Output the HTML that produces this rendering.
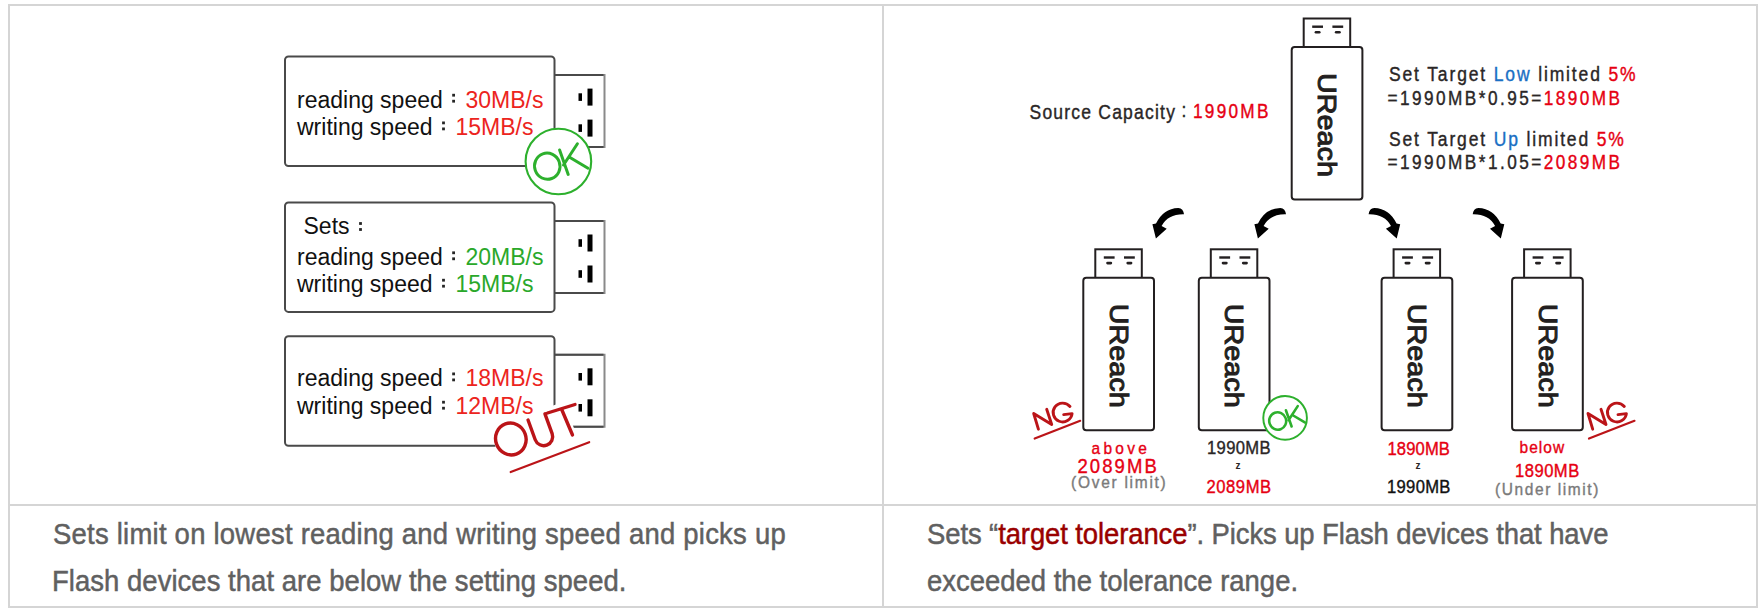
<!DOCTYPE html>
<html><head><meta charset="utf-8"><style>
html,body{margin:0;padding:0;background:#fff;}
body{width:1764px;height:612px;position:relative;overflow:hidden;font-family:'Liberation Sans', sans-serif;}
.t{position:absolute;white-space:nowrap;}
svg{position:absolute;left:0;top:0;}
</style></head><body>

<div style="position:absolute;left:8px;top:4px;width:1746px;height:600px;border:2px solid #d5d5d5"></div>
<div style="position:absolute;left:882px;top:4px;width:2px;height:604px;background:#d5d5d5"></div>
<div style="position:absolute;left:8px;top:504px;width:1750px;height:2px;background:#d5d5d5"></div>

<svg width="1764" height="612" viewBox="0 0 1764 612">
<path d="M550 75.0 H604.5 V147.0 H550" fill="#fff" stroke="#8a8a8a" stroke-width="2"/>
<path d="M550 75.0 H603.5" stroke="#4a4a4a" stroke-width="2"/>
<path d="M550 147.0 H603.5" stroke="#4a4a4a" stroke-width="2"/>
<rect x="285" y="56.5" width="269.5" height="109.5" rx="3.5" fill="#fff" stroke="#4a4a4a" stroke-width="2"/>
<rect x="578.5" y="93.3" width="3.5" height="7.6" fill="#000"/>
<rect x="587.5" y="88.6" width="5" height="17" fill="#000"/>
<rect x="578.5" y="124.3" width="3.5" height="7.6" fill="#000"/>
<rect x="587.5" y="119.6" width="5" height="17" fill="#000"/>
<rect x="452.2" y="93.8" width="2.8" height="2.8" fill="#262626"/>
<rect x="452.2" y="99.8" width="2.8" height="2.8" fill="#262626"/>
<rect x="442.1" y="121.5" width="2.8" height="2.8" fill="#262626"/>
<rect x="442.1" y="127.5" width="2.8" height="2.8" fill="#262626"/>
<path d="M550 220.9 H604.5 V292.9 H550" fill="#fff" stroke="#8a8a8a" stroke-width="2"/>
<path d="M550 220.9 H603.5" stroke="#4a4a4a" stroke-width="2"/>
<path d="M550 292.9 H603.5" stroke="#4a4a4a" stroke-width="2"/>
<rect x="285" y="202.4" width="269.5" height="109.5" rx="3.5" fill="#fff" stroke="#4a4a4a" stroke-width="2"/>
<rect x="578.5" y="239.2" width="3.5" height="7.6" fill="#000"/>
<rect x="587.5" y="234.5" width="5" height="17" fill="#000"/>
<rect x="578.5" y="270.2" width="3.5" height="7.6" fill="#000"/>
<rect x="587.5" y="265.5" width="5" height="17" fill="#000"/>
<rect x="359.1" y="222.1" width="2.8" height="2.8" fill="#262626"/>
<rect x="359.1" y="228.1" width="2.8" height="2.8" fill="#262626"/>
<rect x="452.2" y="251.4" width="2.8" height="2.8" fill="#262626"/>
<rect x="452.2" y="257.4" width="2.8" height="2.8" fill="#262626"/>
<rect x="442.1" y="278.8" width="2.8" height="2.8" fill="#262626"/>
<rect x="442.1" y="284.8" width="2.8" height="2.8" fill="#262626"/>
<path d="M550 354.7 H604.5 V426.7 H550" fill="#fff" stroke="#8a8a8a" stroke-width="2"/>
<path d="M550 354.7 H603.5" stroke="#4a4a4a" stroke-width="2"/>
<path d="M550 426.7 H603.5" stroke="#4a4a4a" stroke-width="2"/>
<rect x="285" y="336.2" width="269.5" height="109.5" rx="3.5" fill="#fff" stroke="#4a4a4a" stroke-width="2"/>
<rect x="578.5" y="373.0" width="3.5" height="7.6" fill="#000"/>
<rect x="587.5" y="368.3" width="5" height="17" fill="#000"/>
<rect x="578.5" y="404.0" width="3.5" height="7.6" fill="#000"/>
<rect x="587.5" y="399.3" width="5" height="17" fill="#000"/>
<rect x="452.2" y="372.5" width="2.8" height="2.8" fill="#262626"/>
<rect x="452.2" y="378.5" width="2.8" height="2.8" fill="#262626"/>
<rect x="442.1" y="400.8" width="2.8" height="2.8" fill="#262626"/>
<rect x="442.1" y="406.8" width="2.8" height="2.8" fill="#262626"/>
<rect x="1303.7" y="18.5" width="46.5" height="29" fill="#fff" stroke="#231f20" stroke-width="2"/>
<rect x="1291.7" y="47.0" width="70.7" height="152.5" rx="3" fill="#fff" stroke="#231f20" stroke-width="2"/>
<rect x="1312.2" y="25.5" width="10.8" height="2.4" fill="#231f20"/>
<rect x="1314.6" y="31.0" width="6" height="2.6" rx="1.3" fill="#231f20"/>
<rect x="1332.4" y="25.5" width="10.8" height="2.4" fill="#231f20"/>
<rect x="1334.8" y="31.0" width="6" height="2.6" rx="1.3" fill="#231f20"/>
<text transform="translate(1318.1,72.9) rotate(90)" font-size="26" fill="#231f20" stroke="#231f20" stroke-width="1.0" font-family="Liberation Sans" textLength="104" lengthAdjust="spacingAndGlyphs">UReach</text>
<rect x="1095.3" y="249.3" width="46.5" height="29" fill="#fff" stroke="#231f20" stroke-width="2"/>
<rect x="1083.3" y="277.8" width="70.7" height="152.5" rx="3" fill="#fff" stroke="#231f20" stroke-width="2"/>
<rect x="1103.8" y="256.3" width="10.8" height="2.4" fill="#231f20"/>
<rect x="1106.2" y="261.8" width="6" height="2.6" rx="1.3" fill="#231f20"/>
<rect x="1124.0" y="256.3" width="10.8" height="2.4" fill="#231f20"/>
<rect x="1126.4" y="261.8" width="6" height="2.6" rx="1.3" fill="#231f20"/>
<text transform="translate(1109.7,303.7) rotate(90)" font-size="26" fill="#231f20" stroke="#231f20" stroke-width="1.0" font-family="Liberation Sans" textLength="104" lengthAdjust="spacingAndGlyphs">UReach</text>
<rect x="1210.8" y="249.3" width="46.5" height="29" fill="#fff" stroke="#231f20" stroke-width="2"/>
<rect x="1198.8" y="277.8" width="70.7" height="152.5" rx="3" fill="#fff" stroke="#231f20" stroke-width="2"/>
<rect x="1219.3" y="256.3" width="10.8" height="2.4" fill="#231f20"/>
<rect x="1221.7" y="261.8" width="6" height="2.6" rx="1.3" fill="#231f20"/>
<rect x="1239.5" y="256.3" width="10.8" height="2.4" fill="#231f20"/>
<rect x="1241.9" y="261.8" width="6" height="2.6" rx="1.3" fill="#231f20"/>
<text transform="translate(1225.2,303.7) rotate(90)" font-size="26" fill="#231f20" stroke="#231f20" stroke-width="1.0" font-family="Liberation Sans" textLength="104" lengthAdjust="spacingAndGlyphs">UReach</text>
<rect x="1393.6" y="249.3" width="46.5" height="29" fill="#fff" stroke="#231f20" stroke-width="2"/>
<rect x="1381.6" y="277.8" width="70.7" height="152.5" rx="3" fill="#fff" stroke="#231f20" stroke-width="2"/>
<rect x="1402.1" y="256.3" width="10.8" height="2.4" fill="#231f20"/>
<rect x="1404.5" y="261.8" width="6" height="2.6" rx="1.3" fill="#231f20"/>
<rect x="1422.3" y="256.3" width="10.8" height="2.4" fill="#231f20"/>
<rect x="1424.7" y="261.8" width="6" height="2.6" rx="1.3" fill="#231f20"/>
<text transform="translate(1408.0,303.7) rotate(90)" font-size="26" fill="#231f20" stroke="#231f20" stroke-width="1.0" font-family="Liberation Sans" textLength="104" lengthAdjust="spacingAndGlyphs">UReach</text>
<rect x="1524.1" y="249.3" width="46.5" height="29" fill="#fff" stroke="#231f20" stroke-width="2"/>
<rect x="1512.1" y="277.8" width="70.7" height="152.5" rx="3" fill="#fff" stroke="#231f20" stroke-width="2"/>
<rect x="1532.6" y="256.3" width="10.8" height="2.4" fill="#231f20"/>
<rect x="1535.0" y="261.8" width="6" height="2.6" rx="1.3" fill="#231f20"/>
<rect x="1552.8" y="256.3" width="10.8" height="2.4" fill="#231f20"/>
<rect x="1555.2" y="261.8" width="6" height="2.6" rx="1.3" fill="#231f20"/>
<text transform="translate(1538.5,303.7) rotate(90)" font-size="26" fill="#231f20" stroke="#231f20" stroke-width="1.0" font-family="Liberation Sans" textLength="104" lengthAdjust="spacingAndGlyphs">UReach</text>
<path d="M1368.6 214.3 Q1369.2 208.4 1374.3 207.9 Q1389.5 208.4 1396.6 223.6 L1400.2 224.3 L1396.7 238.6 L1385.9 228.8 L1391.0 226.0 Q1384.5 213.9 1368.6 214.3 Z" fill="#000"/>
<path d="M1368.6 214.3 Q1369.2 208.4 1374.3 207.9 Q1389.5 208.4 1396.6 223.6 L1400.2 224.3 L1396.7 238.6 L1385.9 228.8 L1391.0 226.0 Q1384.5 213.9 1368.6 214.3 Z" fill="#000" transform="translate(104.1,0)"/>
<path d="M1368.6 214.3 Q1369.2 208.4 1374.3 207.9 Q1389.5 208.4 1396.6 223.6 L1400.2 224.3 L1396.7 238.6 L1385.9 228.8 L1391.0 226.0 Q1384.5 213.9 1368.6 214.3 Z" fill="#000" transform="translate(2552.6,0) scale(-1,1)"/>
<path d="M1368.6 214.3 Q1369.2 208.4 1374.3 207.9 Q1389.5 208.4 1396.6 223.6 L1400.2 224.3 L1396.7 238.6 L1385.9 228.8 L1391.0 226.0 Q1384.5 213.9 1368.6 214.3 Z" fill="#000" transform="translate(2654.6,0) scale(-1,1)"/>
<rect x="0" y="-34" width="80" height="42" fill="#fff" transform="translate(500.7,460.8) rotate(-20)"/>
</svg>
<div class="t" style="left:297.0px;top:88.7px;font-size:23px;line-height:23px;color:#111;font-weight:normal;letter-spacing:0px;">reading speed</div>
<div class="t" style="left:465.5px;top:88.7px;font-size:23px;line-height:23px;color:#ec2420;font-weight:normal;letter-spacing:0px;">30MB/s</div>
<div class="t" style="left:297.0px;top:116.1px;font-size:23px;line-height:23px;color:#111;font-weight:normal;letter-spacing:0px;">writing speed</div>
<div class="t" style="left:455.5px;top:116.1px;font-size:23px;line-height:23px;color:#ec2420;font-weight:normal;letter-spacing:0px;">15MB/s</div>
<div class="t" style="left:303.5px;top:215.3px;font-size:23px;line-height:23px;color:#111;font-weight:normal;letter-spacing:0px;">Sets</div>
<div class="t" style="left:297.0px;top:246.3px;font-size:23px;line-height:23px;color:#111;font-weight:normal;letter-spacing:0px;">reading speed</div>
<div class="t" style="left:465.5px;top:246.3px;font-size:23px;line-height:23px;color:#2aa82a;font-weight:normal;letter-spacing:0px;">20MB/s</div>
<div class="t" style="left:297.0px;top:273.4px;font-size:23px;line-height:23px;color:#111;font-weight:normal;letter-spacing:0px;">writing speed</div>
<div class="t" style="left:455.5px;top:273.4px;font-size:23px;line-height:23px;color:#2aa82a;font-weight:normal;letter-spacing:0px;">15MB/s</div>
<div class="t" style="left:297.0px;top:367.4px;font-size:23px;line-height:23px;color:#111;font-weight:normal;letter-spacing:0px;">reading speed</div>
<div class="t" style="left:465.5px;top:367.4px;font-size:23px;line-height:23px;color:#ec2420;font-weight:normal;letter-spacing:0px;">18MB/s</div>
<div class="t" style="left:297.0px;top:395.4px;font-size:23px;line-height:23px;color:#111;font-weight:normal;letter-spacing:0px;">writing speed</div>
<div class="t" style="left:455.5px;top:395.4px;font-size:23px;line-height:23px;color:#ec2420;font-weight:normal;letter-spacing:0px;">12MB/s</div>
<div class="t" style="left:53.00px;top:519.40px;font-size:30px;line-height:30px;letter-spacing:0.264px;transform-origin:0 0;transform:scale(0.915,1);-webkit-text-stroke:0.5px currentColor"><span style="color:#606060">Sets limit on lowest reading and writing speed and picks up</span></div>
<div class="t" style="left:52.00px;top:565.90px;font-size:30px;line-height:30px;letter-spacing:0.052px;transform-origin:0 0;transform:scale(0.915,1);-webkit-text-stroke:0.5px currentColor"><span style="color:#606060">Flash devices that are below the setting speed.</span></div>
<div class="t" style="left:927.00px;top:519.40px;font-size:30px;line-height:30px;letter-spacing:-0.101px;transform-origin:0 0;transform:scale(0.915,1);-webkit-text-stroke:0.5px currentColor"><span style="color:#606060">Sets “</span><span style="color:#990000">target tolerance</span><span style="color:#606060">”. Picks up Flash devices that have</span></div>
<div class="t" style="left:927.00px;top:565.90px;font-size:30px;line-height:30px;letter-spacing:0.008px;transform-origin:0 0;transform:scale(0.915,1);-webkit-text-stroke:0.5px currentColor"><span style="color:#606060">exceeded the tolerance range.</span></div>
<div class="t" style="left:1029.50px;top:103.40px;font-size:17.5px;line-height:17.5px;letter-spacing:1.214px;transform-origin:0 0;transform:scale(1,1.15);-webkit-text-stroke:0.35px currentColor"><span style="color:#2a2626">Source Capacity</span></div>
<div class="t" style="left:1193.00px;top:102.44px;font-size:17.2px;line-height:17.2px;letter-spacing:2.280px;transform-origin:0 0;transform:scale(1,1.13);-webkit-text-stroke:0.35px currentColor"><span style="color:#e60012">1990MB</span></div>
<div class="t" style="left:1181.50px;top:101.40px;font-size:17.5px;line-height:17.5px;letter-spacing:0.000px;transform-origin:0 0;transform:scale(1,1.15);-webkit-text-stroke:0.35px currentColor"><span style="color:#2a2626">:</span></div>
<div class="t" style="left:1389.00px;top:65.40px;font-size:17.5px;line-height:17.5px;letter-spacing:1.858px;transform-origin:0 0;transform:scale(1,1.14);-webkit-text-stroke:0.35px currentColor"><span style="color:#2a2626">Set Target </span><span style="color:#1a6fc4">Low</span><span style="color:#2a2626"> limited </span><span style="color:#e60012">5%</span></div>
<div class="t" style="left:1387.50px;top:88.94px;font-size:17.2px;line-height:17.2px;letter-spacing:2.456px;transform-origin:0 0;transform:scale(1,1.13);-webkit-text-stroke:0.35px currentColor"><span style="color:#2a2626">=1990MB*0.95=</span><span style="color:#e60012">1890MB</span></div>
<div class="t" style="left:1389.00px;top:129.90px;font-size:17.5px;line-height:17.5px;letter-spacing:1.852px;transform-origin:0 0;transform:scale(1,1.14);-webkit-text-stroke:0.35px currentColor"><span style="color:#2a2626">Set Target </span><span style="color:#1a6fc4">Up</span><span style="color:#2a2626"> limited </span><span style="color:#e60012">5%</span></div>
<div class="t" style="left:1387.50px;top:152.94px;font-size:17.2px;line-height:17.2px;letter-spacing:2.456px;transform-origin:0 0;transform:scale(1,1.13);-webkit-text-stroke:0.35px currentColor"><span style="color:#2a2626">=1990MB*1.05=</span><span style="color:#e60012">2089MB</span></div>
<div class="t" style="left:1091.50px;top:439.64px;font-size:15.5px;line-height:15.5px;letter-spacing:3.300px;transform-origin:0 0;transform:scale(1,1.1);-webkit-text-stroke:0.35px currentColor"><span style="color:#e60012">above</span></div>
<div class="t" style="left:1077.50px;top:457.28px;font-size:18.5px;line-height:18.5px;letter-spacing:2.080px;transform-origin:0 0;transform:scale(1,1.05);-webkit-text-stroke:0.35px currentColor"><span style="color:#e60012">2089MB</span></div>
<div class="t" style="left:1071.00px;top:472.64px;font-size:15.5px;line-height:15.5px;letter-spacing:1.727px;transform-origin:0 0;transform:scale(1,1.12);-webkit-text-stroke:0.35px currentColor"><span style="color:#7a7a7a">(Over limit)</span></div>
<div class="t" style="left:1207.00px;top:438.51px;font-size:16.6px;line-height:16.6px;letter-spacing:0.360px;transform-origin:0 0;transform:scale(1,1.13);-webkit-text-stroke:0.35px currentColor"><span style="color:#2a2626">1990MB</span></div>
<div class="t" style="left:1206.50px;top:477.51px;font-size:16.6px;line-height:16.6px;letter-spacing:0.560px;transform-origin:0 0;transform:scale(1,1.13);-webkit-text-stroke:0.35px currentColor"><span style="color:#e60012">2089MB</span></div>
<div class="t" style="left:1387.50px;top:439.51px;font-size:16.6px;line-height:16.6px;letter-spacing:0.120px;transform-origin:0 0;transform:scale(1,1.13);-webkit-text-stroke:0.35px currentColor"><span style="color:#e60012">1890MB</span></div>
<div class="t" style="left:1387.00px;top:477.51px;font-size:16.6px;line-height:16.6px;letter-spacing:0.320px;transform-origin:0 0;transform:scale(1,1.13);-webkit-text-stroke:0.35px currentColor"><span style="color:#111">1990MB</span></div>
<div class="t" style="left:1519.50px;top:439.14px;font-size:15.5px;line-height:15.5px;letter-spacing:1.050px;transform-origin:0 0;transform:scale(1,1.1);-webkit-text-stroke:0.35px currentColor"><span style="color:#e60012">below</span></div>
<div class="t" style="left:1515.00px;top:461.51px;font-size:16.6px;line-height:16.6px;letter-spacing:0.480px;transform-origin:0 0;transform:scale(1,1.13);-webkit-text-stroke:0.35px currentColor"><span style="color:#e60012">1890MB</span></div>
<div class="t" style="left:1495.00px;top:479.64px;font-size:15.5px;line-height:15.5px;letter-spacing:1.583px;transform-origin:0 0;transform:scale(1,1.12);-webkit-text-stroke:0.35px currentColor"><span style="color:#7a7a7a">(Under limit)</span></div>
<div class="t" style="left:1235.5px;top:461.0px;font-size:10px;line-height:10px;color:#2a2626;font-weight:bold;letter-spacing:0px;">z</div>
<div class="t" style="left:1415.5px;top:461.0px;font-size:10px;line-height:10px;color:#2a2626;font-weight:bold;letter-spacing:0px;">z</div>
<svg width="1764" height="612" viewBox="0 0 1764 612">
<g transform="translate(558.4,161.5) scale(1)" fill="none" stroke="#2db02d" stroke-linecap="round"><circle cx="0" cy="0" r="32.8" fill="#fff" stroke-width="2.1"/><ellipse cx="-11.15" cy="4.7" rx="12.7" ry="13.1" stroke-width="3" transform="rotate(-20 -11.15 4.7)"/><path d="M1.2 -11.5 L9.8 12.9 M19 -17.7 L5.1 3.5 M11.6 -4 L29.6 6.7" stroke-width="3"/></g>
<g fill="none" stroke="#bb1418" stroke-width="3.4" stroke-linecap="round"><ellipse cx="510.85" cy="439" rx="15.2" ry="16" transform="rotate(-20 510.85 439)"/><path d="M0 -30 V-9 A9 9 0 0 0 18 -9 V-30" transform="translate(538.3,448.2) rotate(-20)"/><path d="M547.5 413 L575 404.5 M561.5 409 L572.5 435"/><path d="M510.7 472 L589.2 442.2" stroke-width="2.2"/></g>
<g transform="translate(1285.1,417.9) scale(0.665)" fill="none" stroke="#2db02d" stroke-linecap="round"><circle cx="0" cy="0" r="32.8" fill="#fff" stroke-width="2.9"/><ellipse cx="-11.15" cy="4.7" rx="12.7" ry="13.1" stroke-width="3.9" transform="rotate(-20 -11.15 4.7)"/><path d="M1.2 -11.5 L9.8 12.9 M19 -17.7 L5.1 3.5 M11.6 -4 L29.6 6.7" stroke-width="3.9"/></g>
<g transform="translate(0,0)" fill="none" stroke="#bb1418" stroke-width="2.9" stroke-linecap="round" stroke-linejoin="round"><path d="M1592.7 429.2 L1588 413.5 L1606 424.5 L1601 409.3"/><path d="M1624.3 406.5 A9.5 9.4 0 1 0 1626.4 413.6 L1618 414.6"/><path d="M1589 438.5 L1634.5 420.8" stroke-width="2.2"/></g>
<g transform="translate(-554.3,0)" fill="none" stroke="#bb1418" stroke-width="2.9" stroke-linecap="round" stroke-linejoin="round"><path d="M1592.7 429.2 L1588 413.5 L1606 424.5 L1601 409.3"/><path d="M1624.3 406.5 A9.5 9.4 0 1 0 1626.4 413.6 L1618 414.6"/><path d="M1589 438.5 L1634.5 420.8" stroke-width="2.2"/></g>
</svg>
</body></html>
